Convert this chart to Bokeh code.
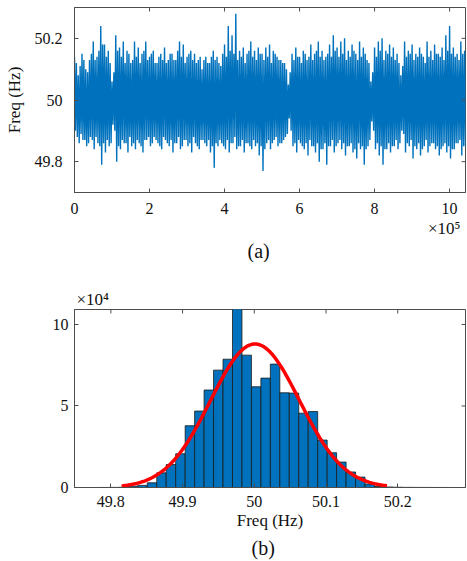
import math
from bokeh.plotting import figure
from bokeh.layouts import column
from bokeh.models import (FixedTicker, CustomJSTickFormatter, Range1d, ColumnDataSource, Title)
from bokeh.embed import file_html
from bokeh.resources import INLINE

# ---------------- data ----------------
# (a) frequency record, min/max decimated: each 1e4-sample window split in two halves
seg_step = 10000
upper = [50.14, 50.08, 50.15, 50.10, 50.13, 50.19, 50.14, 50.24, 50.18, 50.16,
         50.06, 50.21, 50.17, 50.19, 50.16, 50.12, 50.19, 50.17, 50.15, 50.19,
         50.14, 50.16, 50.12, 50.15, 50.17, 50.13, 50.15, 50.13, 50.19, 50.18,
         50.14, 50.16, 50.15, 50.13, 50.10, 50.14, 50.12, 50.16, 50.14, 50.11,
         50.18, 50.24, 50.21, 50.28, 50.16, 50.17, 50.15, 50.19, 50.16, 50.17,
         50.15, 50.17, 50.18, 50.16, 50.14, 50.13, 50.12, 50.05, 50.15, 50.17,
         50.14, 50.16, 50.13, 50.18, 50.15, 50.19, 50.16, 50.14, 50.18, 50.21,
         50.17, 50.19, 50.20, 50.16, 50.18, 50.15, 50.19, 50.17, 50.13, 50.06,
         50.17, 50.19, 50.20, 50.16, 50.18, 50.17, 50.15, 50.08, 50.19, 50.16,
         50.18, 50.15, 50.17, 50.14, 50.19, 50.16, 50.18, 50.15, 50.17, 50.21,
         50.24, 50.17, 50.15, 50.19, 50.16]
lower = [49.90, 49.86, 49.87, 49.85, 49.88, 49.84, 49.86, 49.79, 49.83, 49.85,
         49.92, 49.80, 49.84, 49.86, 49.83, 49.85, 49.84, 49.86, 49.83, 49.87,
         49.85, 49.88, 49.86, 49.84, 49.87, 49.85, 49.83, 49.86, 49.84, 49.87,
         49.85, 49.83, 49.86, 49.84, 49.87, 49.85, 49.83, 49.78, 49.85, 49.86,
         49.84, 49.83, 49.86, 49.84, 49.85, 49.83, 49.86, 49.84, 49.85, 49.82,
         49.77, 49.86, 49.84, 49.87, 49.85, 49.86, 49.88, 49.94, 49.85, 49.83,
         49.86, 49.84, 49.82, 49.85, 49.83, 49.80, 49.84, 49.79, 49.85, 49.83,
         49.86, 49.84, 49.82, 49.85, 49.83, 49.81, 49.84, 49.79, 49.85, 49.93,
         49.84, 49.82, 49.79, 49.84, 49.83, 49.85, 49.84, 49.90, 49.83, 49.85,
         49.81, 49.84, 49.82, 49.85, 49.83, 49.86, 49.84, 49.82, 49.85, 49.83,
         49.81, 49.84, 49.86, 49.82, 49.85]
upper_b = [50.12, 50.11, 50.13, 50.09, 50.15, 50.13, 50.16, 50.18, 50.14, 50.12,
           50.09, 50.16, 50.14, 50.12, 50.15, 50.13, 50.14, 50.12, 50.16, 50.13,
           50.15, 50.12, 50.14, 50.13, 50.12, 50.15, 50.13, 50.16, 50.14, 50.12,
           50.15, 50.13, 50.12, 50.14, 50.13, 50.12, 50.14, 50.13, 50.12, 50.15,
           50.14, 50.16, 50.15, 50.13, 50.14, 50.12, 50.16, 50.14, 50.13, 50.15,
           50.13, 50.14, 50.12, 50.15, 50.13, 50.12, 50.10, 50.09, 50.13, 50.14,
           50.12, 50.15, 50.14, 50.13, 50.16, 50.14, 50.13, 50.15, 50.14, 50.16,
           50.14, 50.15, 50.13, 50.14, 50.16, 50.13, 50.14, 50.15, 50.12, 50.09,
           50.14, 50.16, 50.13, 50.15, 50.14, 50.13, 50.12, 50.11, 50.14, 50.15,
           50.13, 50.14, 50.15, 50.12, 50.14, 50.13, 50.15, 50.14, 50.13, 50.16,
           50.15, 50.14, 50.13, 50.15, 50.14]
lower_b = [49.88, 49.89, 49.87, 49.86, 49.87, 49.88, 49.85, 49.86, 49.87, 49.86,
           49.90, 49.85, 49.87, 49.86, 49.88, 49.86, 49.87, 49.85, 49.87, 49.88,
           49.86, 49.87, 49.85, 49.88, 49.86, 49.87, 49.86, 49.88, 49.85, 49.87,
           49.86, 49.88, 49.85, 49.87, 49.86, 49.87, 49.85, 49.86, 49.87, 49.85,
           49.87, 49.86, 49.88, 49.85, 49.87, 49.86, 49.85, 49.87, 49.86, 49.85,
           49.84, 49.87, 49.86, 49.88, 49.86, 49.87, 49.89, 49.90, 49.86, 49.87,
           49.85, 49.86, 49.87, 49.85, 49.86, 49.84, 49.86, 49.85, 49.87, 49.85,
           49.87, 49.86, 49.85, 49.86, 49.84, 49.86, 49.85, 49.84, 49.87, 49.90,
           49.86, 49.85, 49.84, 49.86, 49.85, 49.87, 49.86, 49.89, 49.86, 49.87,
           49.85, 49.86, 49.84, 49.87, 49.85, 49.86, 49.85, 49.84, 49.86, 49.85,
           49.84, 49.86, 49.87, 49.85, 49.86]
a_xticks = [0, 200000, 400000, 600000, 800000, 1000000]
a_yticks = [49.8, 50.0, 50.2]

# (b) histogram
bin_edges = [49.7848, 49.7980, 49.8112, 49.8244, 49.8376, 49.8508, 49.8640, 49.8772,
             49.8904, 49.9036, 49.9168, 49.9300, 49.9432, 49.9564, 49.9696, 49.9828,
             49.9960, 50.0092, 50.0224, 50.0356, 50.0488, 50.0620, 50.0752, 50.0884,
             50.1016, 50.1148, 50.1280, 50.1412, 50.1544, 50.1676, 50.1808, 50.1940,
             50.2072, 50.2204, 50.2336, 50.2468, 50.2600, 50.2732]
bin_counts = [20, 50, 150, 800, 1300, 2900, 9000, 14100, 20700, 37900, 46900, 59800,
              72000, 78700, 113000, 81200, 61800, 67100, 75700, 58100, 57900, 45600,
              46600, 29100, 21300, 15600, 9500, 6400, 2100, 600, 300, 150, 80, 50, 30,
              20, 10]
fit_mu = 50.001
fit_sigma = 0.062
fit_span = [49.815, 50.185]
b_xticks = [49.8, 49.9, 50.0, 50.1, 50.2]
b_yticks = [0, 50000, 100000]

# ---------------- styling helpers ----------------
FONT = "Liberation Serif"
AX = "#4d4d4d"
TXT = "#111111"
BLUE = "#0072BD"
TICK_PX = 4


def style_axis(ax, ticks, fmt, standoff):
    ax.ticker = FixedTicker(ticks=ticks)
    ax.formatter = CustomJSTickFormatter(code=fmt)
    ax.major_tick_in = TICK_PX
    ax.major_tick_out = 0
    ax.minor_tick_line_color = None
    ax.axis_line_color = AX
    ax.major_tick_line_color = AX
    ax.major_label_text_font = FONT
    ax.major_label_text_color = TXT
    ax.major_label_text_font_size = "16px"
    ax.major_label_standoff = standoff
    ax.axis_label_text_font = FONT
    ax.axis_label_text_font_style = "normal"
    ax.axis_label_text_font_size = "17px"
    ax.axis_label_text_color = TXT


def base(p):
    p.xgrid.visible = False
    p.ygrid.visible = False
    p.outline_line_color = AX
    p.outline_line_width = 1
    p.background_fill_color = "white"
    p.border_fill_color = "white"


def mirror_ticks(p, xticks, yticks, frame_w, frame_h):
    # inward ticks on the top and right edges of the box (MATLAB "box on")
    xr, yr = p.x_range, p.y_range
    dy = (yr.end - yr.start) * TICK_PX / frame_h
    dx = (xr.end - xr.start) * TICK_PX / frame_w
    p.segment(x0=xticks, x1=xticks, y0=[yr.end] * len(xticks), y1=[yr.end - dy] * len(xticks),
              line_color=AX, line_width=1)
    p.segment(x0=[xr.end] * len(yticks), x1=[xr.end - dx] * len(yticks), y0=yticks, y1=yticks,
              line_color=AX, line_width=1)


def title(text, size, align, offset, standoff):
    return Title(text=text, align=align, offset=offset, standoff=standoff,
                 text_font=FONT, text_font_size=size, text_font_style="normal",
                 text_color=TXT)


# ---------------- (a) ----------------
p1 = figure(width=467, height=262, x_range=Range1d(0, 1.0424e6), y_range=Range1d(49.7, 50.3),
            output_backend="svg", toolbar_location=None,
            min_border_left=74, min_border_right=2, min_border_top=7, min_border_bottom=70)
base(p1)

xs, ys = [], []
for i in range(len(upper)):
    x0 = i * seg_step
    xs += [x0, x0 + seg_step * 0.25, x0 + seg_step * 0.5, x0 + seg_step * 0.75]
    ys += [upper[i], lower[i], upper_b[i], lower_b[i]]
p1.line(xs, ys, line_color=BLUE, line_width=1.4)

style_axis(p1.xaxis[0], a_xticks, "return (tick/1e5).toFixed(0)", 10)
style_axis(p1.yaxis[0], a_yticks, "return String(Number(tick.toFixed(1)))", 12)
p1.yaxis[0].axis_label = "Freq (Hz)"
p1.yaxis[0].axis_label_standoff = 8
mirror_ticks(p1, a_xticks, a_yticks, 391, 185)

p1.add_layout(title("\u00d710\u2075", "17px", "right", 5, 0), "below")
p1.add_layout(title("(a)", "20px", "left", 173, 0), "below")

# ---------------- (b) ----------------
p2 = figure(width=467, height=299, x_range=Range1d(49.7493, 50.2945), y_range=Range1d(0, 109200),
            output_backend="svg", toolbar_location=None,
            min_border_left=69, min_border_right=2, min_border_top=47, min_border_bottom=74)
base(p2)

src = ColumnDataSource(dict(left=bin_edges[:-1], right=bin_edges[1:], top=bin_counts))
p2.quad(left="left", right="right", top="top", bottom=0, source=src,
        fill_color=BLUE, line_color="#1a1a1a", line_width=0.8)

total = sum(bin_counts)
bw = bin_edges[1] - bin_edges[0]
n = 200
fx = [fit_span[0] + (fit_span[1] - fit_span[0]) * i / (n - 1) for i in range(n)]
fy = [total * bw / (fit_sigma * math.sqrt(2 * math.pi)) *
      math.exp(-((v - fit_mu) ** 2) / (2 * fit_sigma ** 2)) for v in fx]
p2.line(fx, fy, line_color="#ff0000", line_width=3.5)

style_axis(p2.xaxis[0], b_xticks, "return String(Number(tick.toFixed(1)))", 8)
p2.xaxis[0].axis_label = "Freq (Hz)"
p2.xaxis[0].axis_label_standoff = 1
style_axis(p2.yaxis[0], b_yticks, "return (tick/1e4).toFixed(0)", 6)
mirror_ticks(p2, b_xticks, b_yticks, 396, 178)

p2.add_layout(title("\u00d710\u2074", "17px", "left", 2, 2), "above")
p2.add_layout(title("(b)", "20px", "left", 177, 4), "below")

layout = column(p1, p2, spacing=0)
open("out.html", "w").write(file_html(layout, INLINE))
